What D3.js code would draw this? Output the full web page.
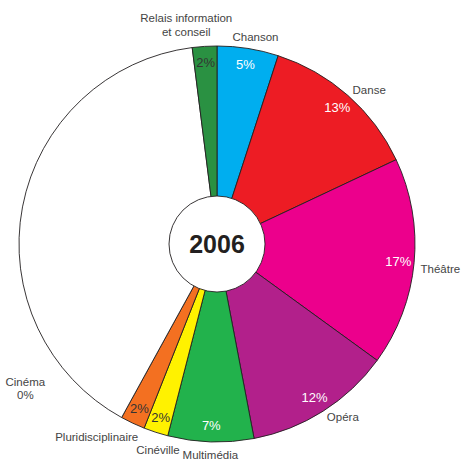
<!DOCTYPE html>
<html>
<head>
<meta charset="utf-8">
<script src="https://cdn.jsdelivr.net/npm/d3@7"></script>
<style>
body { margin: 0; background: #fff; }
text { font-family: "Liberation Sans", Arial, sans-serif; }
</style>
</head>
<body>
<script>
var categories = ['Chanson', 'Danse', 'Théâtre', 'Opéra', 'Multimédia', 'Cinéville', 'Pluridisciplinaire', 'Cinéma', 'Relais information et conseil']
var values = [5, 13, 17, 12, 7, 2, 2, 40, 2]
var pctLabels = ['5%', '13%', '17%', '12%', '7%', '2%', '2%', '0%', '2%']
var colors = ['#00aeef', '#ed1c24', '#ec008c', '#b2208b', '#22b24c', '#fff200', '#f37021', '#ffffff', '#2a9142']
var darkPct = ['Cinéville', 'Pluridisciplinaire', 'Relais information et conseil']
var year = '2006'

var width = 462, height = 462
var cx = 217, cy = 244, R = 198, r0 = 48

// label angle overrides (degrees clockwise from top) where the original moved them
var labelAngle = { 'Chanson': 10.5, 'Théâtre': 97, 'Cinéville': 196, 'Pluridisciplinaire': 212, 'Cinéma': 233, 'Relais information et conseil': 352 }
var labelRadius = { 'Cinéma': 240, 'Relais information et conseil': 221, 'Pluridisciplinaire': 227, 'Cinéville': 214 }
var labelLines = { 'Cinéma': ['Cinéma', '0%'], 'Relais information et conseil': ['Relais information', 'et conseil'] }

var rows = categories.map(function(c, i){ return { name: c, value: values[i], pct: pctLabels[i], color: colors[i] } })

var svg = d3.select('body').append('svg')
	.attr('width', width)
	.attr('height', height)

var g = svg.append('g').attr('transform', 'translate(' + cx + ',' + cy + ')')

var pie = d3.pie().sort(null).value(function(d){ return d.value })
var arcs = pie(rows)
var arc = d3.arc().innerRadius(0).outerRadius(R)

g.selectAll('.slice').data(arcs).enter().append('path')
	.attr('class', 'slice')
	.attr('d', arc)
	.style('fill', function(d){ return d.data.color })
	.style('stroke', '#231f20')
	.style('stroke-width', 0.9)

// percentages inside
var pctArc = d3.arc().innerRadius(182).outerRadius(182)
g.selectAll('.pct').data(arcs.filter(function(d){ return d.data.name != 'Cinéma' })).enter().append('text')
	.attr('class', 'pct')
	.attr('transform', function(d){ return 'translate(' + pctArc.centroid(d) + ')' })
	.attr('text-anchor', 'middle')
	.attr('dy', '0.35em')
	.style('font-size', '13px')
	.style('fill', function(d){ return darkPct.indexOf(d.data.name) >= 0 ? '#333' : '#fff' })
	.text(function(d){ return d.data.pct })

// category labels outside
var labels = g.selectAll('.lbl').data(arcs).enter().append('text')
	.attr('class', 'lbl')
	.style('font-size', '11.5px')
	.style('fill', '#444')

labels.each(function(d){
	var t = d3.select(this)
	var lines = labelLines[d.data.name] || [d.data.name]
	lines.forEach(function(l, i){
		t.append('tspan').attr('x', 0).attr('dy', i == 0 ? (-(lines.length - 1) * 0.6 + 0.35) + 'em' : '1.2em').text(l)
	})
	var a = labelAngle[d.data.name] != null ? labelAngle[d.data.name] * Math.PI / 180 : (d.startAngle + d.endAngle) / 2
	var right = Math.sin(a) > 0.3 && labelRadius[d.data.name] == null
	var rr = labelRadius[d.data.name] || (right ? 205 : 211)
	t.attr('text-anchor', right ? 'start' : 'middle')
	t.attr('transform', 'translate(' + (Math.sin(a) * rr) + ',' + (-Math.cos(a) * rr) + ')')
})

// hole
g.append('circle')
	.attr('r', r0)
	.style('fill', '#fff')
	.style('stroke', '#231f20')
	.style('stroke-width', 0.9)

g.append('text')
	.attr('text-anchor', 'middle')
	.attr('dy', '0.36em')
	.style('font-size', '25px')
	.style('font-weight', 'bold')
	.style('fill', '#231f20')
	.text(year)
</script>
</body>
</html>
